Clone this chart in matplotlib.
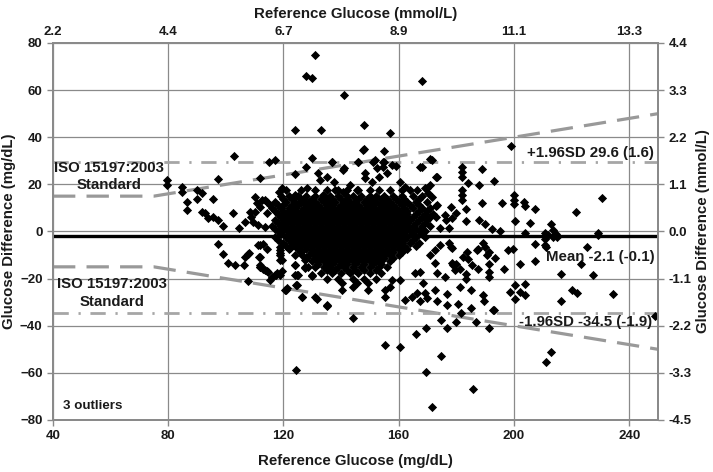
import matplotlib
matplotlib.use("Agg")
import matplotlib.pyplot as plt

plt.rcParams['font.family'] = ['Liberation Sans', 'DejaVu Sans']
plt.rcParams['font.weight'] = 'bold'
plt.rcParams['axes.labelweight'] = 'bold'

# axis ticks (mg/dL) and their mmol/L labels
x_ticks = [40, 80, 120, 160, 200, 240]
x_mmol_labels = ['2.2', '4.4', '6.7', '8.9', '11.1', '13.3']
y_ticks = [-80, -60, -40, -20, 0, 20, 40, 60, 80]
y_mmol_labels = ['-4.5', '-3.3', '-2.2', '-1.1', '0.0', '1.1', '2.2', '3.3', '4.4']

# summary statistics
mean_diff = -2.1
upper_loa = 29.6
lower_loa = -34.5

# ISO 15197:2003 limits: +/-15 mg/dL below 75 mg/dL, +/-20 % above
iso_x = [40, 75, 250]
iso_upper = [15, 15, 50]
iso_lower = [-15, -15, -50]

# scattered points (reference glucose, difference)
sparse_x = [131, 128, 130, 141, 168, 124, 133, 148, 157, 199, 148, 155, 103, 115, 117, 130,
            137, 146, 151, 155, 171, 128, 141, 168, 159, 182, 182, 182, 189, 124, 173, 193,
            184, 171, 170, 188, 182, 182, 182, 189, 196, 200, 200, 200, 203.5, 204, 207.4,
            221.7, 230.7, 200.3, 205.5, 213, 192.5, 195.1, 188, 190, 183.5, 183.5, 178.3, 180,
            176.5, 173.1, 173.1, 171.4, 174.5,
            79.5, 79.5, 84.7, 84.7, 97.4, 111.9, 89.9, 91.6, 86.4, 86.4, 89.9, 95.7, 91.6, 92.8,
            93.9, 95.7, 97.4, 99.1, 102.6, 104.4, 106.7, 108.4, 108.6, 109.5, 110.1, 110.7,
            111.9, 113.6, 114.2, 115.3,
            97.4, 99.1, 100.8, 103.2, 106.7, 107.8, 107.8, 111.6, 111.9, 113, 111.3, 113, 114.2,
            114.2, 115.9, 117.4, 118.8, 118.8, 119.4, 119.4, 120.9, 124.3, 124, 124, 124.4,
            126.4, 127.5, 127.8, 129.8, 131.5, 135.2, 144.3,
            155.1, 160.3, 165.9, 169.4, 169.6, 171.4, 174.8, 185.8, 211.1, 212.8, 174.8, 176.6,
            180, 181.8, 187, 191.2, 193.2, 185.2, 189.7, 189.3, 185.2, 180.6, 176.6, 176.6,
            198.6, 200.3, 200.3, 202.1, 203.8, 203.8, 216.5, 220, 222, 234.4, 248.9, 216.5,
            227.3, 223.4, 225.2, 207.3, 207.3, 210.7, 211.3, 213.4, 214.2, 229.2, 199.7, 198.1,
            202.1, 196.5, 193.4, 191.2, 191.2, 191.2, 191.5, 190, 187.6, 187.6, 184.1, 183.5,
            183.5, 181.2, 181.2, 180, 178.3, 178.9, 210.8, 212, 214.8, 192.9,
            140.2, 140.2, 144.3, 145.5, 149.5, 149.5, 155.3, 155.3, 157, 157.6, 160.5, 162.2,
            164.5, 166.3, 167.4, 169.2, 169.7, 172.6, 173.2,
            170.9, 172.6, 174.4, 177.3, 178.4, 172.6, 173.2, 176.1, 178.4, 179.6, 182.5, 183.6,
            185.4, 187.1, 189.4, 190.6, 167.4, 168.6, 165.7,
            111.9, 111.9, 111.9, 114.8, 117.7, 118.8, 118.8, 118.8, 122.3, 124, 125.2, 126.4,
            127.5, 128.6, 121.1, 126.4, 131, 135,
            132.1, 132.7, 135, 128.1, 136.8, 137.4, 140.8, 143.1, 147.7, 146, 148.3, 148.3,
            151.8, 154.7, 152.4, 154.7, 150.7, 153, 155.9, 157.6, 160.5, 167.4, 171.5, 173.2,
            169.2, 170.3, 166.3, 162.2, 119.4, 118.3, 112.5, 114.2, 124, 125.8, 133.9, 137.9,
            140.8, 145.5, 173.2, 176.1, 178.4, 177.3, 110.1, 111.3, 113.6,
            106.4, 108.2, 111.9, 113.6, 115.3, 117.1, 118.8, 120.6, 124.6, 124.6, 127.5, 129.8,
            210.7, 213.4, 214.5, 229.2, 203.8]
sparse_y = [75, 66, 65, 58, 64, 43, 43, 45, 42, 36.4, 35, 34.3, 32, 29.7, 30.3, 31,
            29.6, 29.3, 29.6, 29.6, 30.6, 27.5, 26.8, 27.5, 27.9, 27.5, 25.4, 23.2, 26.4, 24.4,
            23.2, 21.5, 20.7, 19.7, 18.3, 19.7, 17.6, 15.5, 13.3, 12.2, 12.2, 15.5, 13.3, 11.5,
            12.4, 11, 9.4, 8.4, 14.1, 4.6, 3.4, 3.2, 0.9, 0, 4.9, 3.2, 9.4, 4.6, 10.3, 7.7,
            4.9, 10.8, 6.3, 14.7, 1.5,
            21.8, 19.7, 19, 16.9, 22.2, 22.5, 17.6, 16.2, 12.6, 9.1, 13.6, 13.6, 8.4, 7.7,
            5.6, 6.3, 4.9, 2.3, 7.7, 1.4, 4.2, 8.4, 6.3, 4.2, 14.7, 12.2,
            10.5, 13.3, 7.7, 11.3,
            -5.2, -9.4, -13.2, -14.3, -10.8, -9.4, -21.1, -10.8, -15, -15.8, -5.9, -5.2, -7.3,
            -16.9, -19.3, -18.3, -8, -10.1, -12.2, -16.9, -24.9, -58.6, -14.3, -18.3, -22.8,
            -27.8, -15, -11.2, -18.6, -28.5, -31.6, -36.9,
            -48, -48.9, -43.3, -40.9, -59.5, -74.7, -52.9, -66.9, -55.3, -51.1, -37.6, -40.9,
            -38.6, -34.8, -38.3, -40.9, -33.4, -32.4, -29.6, -26.8, -24.9, -30.6, -31.3, -26.4,
            -25.6, -22.8, -28.5, -25.6, -27, -22.1, -29.6, -24.9, -25.9, -26.4, -35.9, -17.9,
            -18.3, -13.9, -6.6, -12.6, -5.2, -3.1, -6.6, -2.3, -0.9, -1.6, -7.3, -7.8,
            -13.6, -16, -11.2, -13.6, -17.2, -19.5, -8.7, -6.6, -7.3, -15.8, -11.5, -17.9,
            -20, -23.5, -15.8, -13.6, -6.6, -14.3, -5.7, -1.5, -2.2, -33.3,
            -24.8, -22, -23.4, -22, -22, -24.8, -24.8, -27.6, -23.4, -20.6, -20.6, -29,
            -27.6, -26.2, -29.7, -26.2, -28.3, -24.8, -29.7,
            -10, -7.8, -5.7, -5, -7.1, -13.5, -17.7, -19.2, -13.5, -16.3, -10.7, -8.6,
            -14.2, -7.8, -5, -10, -17, -22, -17.7,
            -5.7, -10.7, -14.2, -17, -17.7, -6.4, -9.2, -12.1, -7.1, -14.2, -18.4, -10,
            -12.1, -14.9, -24.1, -27.6, -27.6, -31.1,
            24.7, 21.8, 23.2, 18.3, 29.6, 21.1, 26.1, 19.7, 34.5, 29.6, 24.7, 22.5,
            30.3, 29.6, 26.8, 27.5, 21.1, 23.2, 24.7, 28.2, 21.1, 27.2, 30.3, 23.2,
            18.3, 16.2, 17.6, 19, 18.3, 16.9, 13.3, 12.6, 15.5, 14.1, 15.5, 17.6,
            16.9, 17.6, 11.2, 7, 5.6, 1.4, 8.4, 2.8, 2,
            -14.2, -9.2, -14.9, -16.3, -20.6, -18.4, -18.4, -24.8, -18.4, -22.7, -15.6, -19.1,
            -0.8, 0.6, -1, -0.8, -0.5]

# dense core of the cloud, one list of reference values per difference level
core_levels = [17.5, 15, 13.75, 12.5, 11.25, 10, 8.75, 7.5, 6.25, 5, 3.75, 2.5, 1.25, 0,
               -1.25, -2.5, -3.75, -5, -6.25, -7.5, -8.75, -10, -11.25, -12.5, -13.75, -15,
               -16.25, -17.5, -20]
core_p175 = [121, 126, 131, 135, 139, 142, 146, 150, 153, 157, 161, 164]
core_p150 = [119, 122, 125, 128, 131, 134, 136, 139, 142, 144, 147, 150, 152, 155, 158, 161, 165, 168]
core_p138 = [120, 123, 127, 130, 133, 135, 137, 140, 142, 146, 149, 151, 154, 156, 159, 162, 167]
core_p125 = [117, 121, 124, 126, 129, 131, 134, 136, 138, 141, 143, 145, 148, 150, 152, 155, 157,
             160, 163, 166, 170]
core_p113 = [118, 120, 123, 125, 128, 130, 132, 135, 137, 140, 142, 144, 146, 149, 151, 154, 156,
             158, 161, 164, 167]
core_p100 = [116, 119, 122, 124, 127, 129, 131, 133, 135, 137, 139, 141, 143, 145, 147, 149, 151,
             153, 155, 157, 159, 162, 165, 168, 171]
core_p088 = [117, 120, 122, 124, 126, 128, 130, 132, 134, 136, 138, 140, 142, 144, 146, 148, 150,
             152, 154, 156, 158, 160, 163, 167, 170]
core_p075 = [118, 121, 123, 125, 127, 129, 131, 133, 135, 137, 139, 141, 143, 145, 147, 149, 151,
             153, 155, 157, 159, 161, 163, 166, 169, 172]
core_p063 = [119, 121, 123, 125, 127, 129, 131, 133, 135, 137, 139, 141, 143, 145, 147, 149, 151,
             153, 155, 157, 159, 161, 163, 165, 168, 171]
core_p050 = [117, 120, 122, 124, 126, 128, 130, 132, 134, 136, 138, 140, 142, 144, 146, 148, 150,
             152, 154, 156, 158, 160, 162, 164, 167, 170]
core_p038 = [118, 121, 123, 125, 127, 129, 131, 133, 135, 137, 139, 141, 143, 145, 147, 149, 151,
             153, 155, 157, 159, 161, 163, 166, 169]
core_p025 = [116, 119, 121, 123, 125, 127, 129, 131, 133, 135, 137, 139, 141, 143, 145, 147, 149,
             151, 153, 155, 157, 159, 161, 163, 165, 168, 171]
core_p013 = [117, 119, 121, 123, 125, 127, 129, 131, 133, 135, 137, 139, 141, 143, 145, 147, 149,
             151, 153, 155, 157, 159, 161, 163, 166, 168]
core_z000 = [118, 120, 122, 124, 126, 128, 130, 132, 134, 136, 138, 140, 142, 144, 146, 148, 150,
             152, 154, 156, 158, 160, 162, 164, 167, 169]
core_m013 = [119, 122, 124, 126, 128, 130, 132, 134, 136, 138, 140, 142, 144, 146, 148, 150, 152,
             154, 156, 158, 160, 162, 165, 168]
core_m025 = [117, 121, 123, 125, 127, 129, 131, 133, 135, 137, 139, 141, 143, 145, 147, 149, 151,
             153, 155, 157, 159, 161, 163, 166, 169]
core_m038 = [118, 122, 124, 126, 128, 130, 132, 134, 136, 138, 140, 142, 144, 146, 148, 150, 152,
             154, 156, 158, 160, 162, 165]
core_m050 = [120, 123, 125, 127, 129, 131, 133, 135, 137, 139, 141, 143, 145, 147, 149, 151, 153,
             155, 157, 159, 161, 164, 167]
core_m063 = [121, 124, 126, 128, 130, 132, 134, 136, 138, 140, 142, 144, 146, 148, 150, 152, 154,
             156, 158, 160, 162, 166]
core_m075 = [122, 125, 128, 130, 132, 134, 136, 138, 140, 142, 144, 146, 148, 150, 152, 154, 156,
             158, 160, 163]
core_m088 = [126, 130, 132, 134, 136, 138, 140, 142, 144, 146, 148, 150, 152, 154, 156, 158, 161]
core_m100 = [124, 129, 131, 133, 135, 137, 139, 141, 143, 145, 147, 149, 151, 153, 155, 157, 160]
core_m113 = [128, 131, 133, 135, 137, 139, 141, 143, 145, 147, 149, 151, 153, 155, 158]
core_m125 = [130, 132, 134, 136, 138, 140, 142, 144, 146, 148, 150, 152, 154, 157]
core_m138 = [132, 135, 137, 140, 142, 145, 148, 151, 154]
core_m150 = [131, 134, 136, 139, 141, 144, 147, 150, 153, 156]
core_m163 = [135, 138, 142, 145, 148, 152]
core_m175 = [133, 137, 140, 143, 146, 150, 154]
core_m200 = [135, 139, 144, 148, 152]

core_rows = [core_p175, core_p150, core_p138, core_p125, core_p113, core_p100, core_p088,
             core_p075, core_p063, core_p050, core_p038, core_p025, core_p013, core_z000,
             core_m013, core_m025, core_m038, core_m050, core_m063, core_m075, core_m088,
             core_m100, core_m113, core_m125, core_m138, core_m150, core_m163, core_m175,
             core_m200]

ref_glucose = list(sparse_x)
glucose_diff = list(sparse_y)
for level, row in zip(core_levels, core_rows):
    ref_glucose += row
    glucose_diff += [level] * len(row)

grid_col = '#8a8a8a'
line_col = '#999999'
text_col = '#1a1a1a'
tick_fs = 9.5

fig = plt.figure(figsize=(7.13, 4.72), dpi=100)
ax = fig.add_axes([0.0743, 0.1102, 0.8485, 0.7987])

ax.set_xlim(40, 250)
ax.set_ylim(-80, 80)
ax.set_xticks(x_ticks)
ax.set_yticks(y_ticks)
ax.grid(True, color=grid_col, linewidth=0.9)
ax.set_axisbelow(True)
for side in ax.spines.values():
    side.set_color(grid_col)
    side.set_linewidth(1.2)
ax.tick_params(colors=grid_col, labelcolor=text_col, labelsize=tick_fs, length=4, width=1)

# ISO limits (dashed) and limits of agreement (dash-dot)
ax.plot(iso_x, iso_upper, color=line_col, lw=2.3, dashes=(7, 3.5), zorder=3)
ax.plot(iso_x, iso_lower, color=line_col, lw=2.3, dashes=(7, 3.5), zorder=3)
ax.axhline(upper_loa, color='#a6a6a6', lw=2, dashes=(5.5, 3.5, 0.8, 3.5), zorder=3)
ax.axhline(lower_loa, color='#a6a6a6', lw=2, dashes=(5.5, 3.5, 0.8, 3.5), zorder=3)

ax.scatter(ref_glucose, glucose_diff, marker='D', s=22, color='black', linewidths=0, zorder=4)

ax.axhline(mean_diff, color='black', lw=2.4, zorder=5)

# annotations
fs = 10.8
bold = dict(fontsize=fs, color=text_col, fontweight='bold', zorder=6)
ax.text(59.5, 27, 'ISO 15197:2003', ha='center', va='center', **bold)
ax.text(59.5, 19.7, 'Standard', ha='center', va='center', **bold)
ax.text(60.5, -22.1, 'ISO 15197:2003', ha='center', va='center', **bold)
ax.text(60.5, -29.9, 'Standard', ha='center', va='center', **bold)
ax.text(248.5, 33.2, f'+1.96SD {upper_loa} (1.6)', ha='right', va='center', **bold)
ax.text(248.8, -10.8, f'Mean {mean_diff} (-0.1)', ha='right', va='center', **bold)
ax.text(248, -38.6, f'-1.96SD {lower_loa} (-1.9)', ha='right', va='center', **bold)
ax.text(43.5, -74, '3 outliers', ha='left', va='center', fontsize=9.6, color=text_col,
        fontweight='bold', zorder=6)

label_fs = 10.8
ax.set_xlabel('Reference Glucose (mg/dL)', fontsize=label_fs, color=text_col, fontweight='bold',
              labelpad=8)
ax.set_ylabel('Glucose Difference (mg/dL)', fontsize=label_fs, color=text_col, fontweight='bold',
              labelpad=3)

# secondary mmol/L axes
ax_top = ax.twiny()
ax_top.set_xlim(ax.get_xlim())
ax_top.set_xticks(x_ticks)
ax_top.set_xticklabels(x_mmol_labels)
ax_top.set_xlabel('Reference Glucose (mmol/L)', fontsize=label_fs, color=text_col,
                  fontweight='bold', labelpad=6)
ax_top.tick_params(colors=grid_col, labelcolor=text_col, labelsize=tick_fs, length=0)

ax_right = ax.twinx()
ax_right.set_ylim(ax.get_ylim())
ax_right.set_yticks(y_ticks)
ax_right.set_yticklabels(y_mmol_labels)
ax_right.set_ylabel('Glucose Difference (mmol/L)', fontsize=label_fs, color=text_col,
                    fontweight='bold', labelpad=3)
ax_right.tick_params(colors=grid_col, labelcolor=text_col, labelsize=tick_fs, length=4, width=1)
for a in (ax, ax_top, ax_right):
    for lbl in a.get_xticklabels() + a.get_yticklabels():
        lbl.set_fontweight('bold')
for a in (ax_top, ax_right):
    for side in a.spines.values():
        side.set_color(grid_col)
        side.set_linewidth(1.2)

fig.savefig('out.png', dpi=100)
